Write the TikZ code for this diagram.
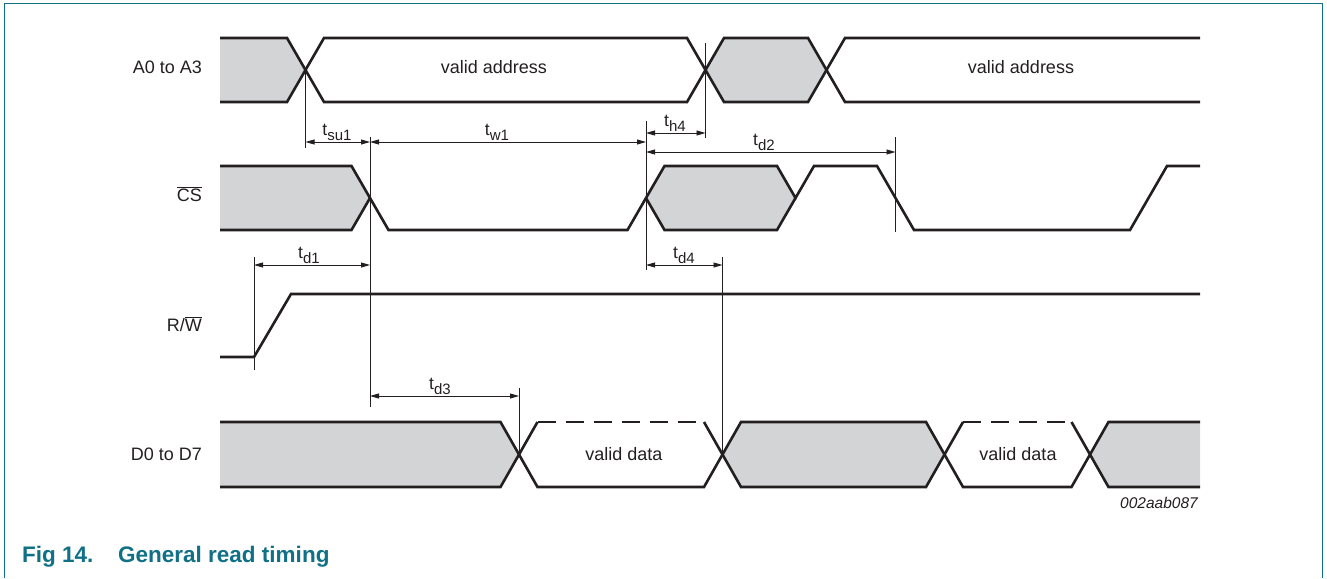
\documentclass[tikz,border=0pt]{standalone}
\usepackage{fontspec}
\setmainfont{Liberation Sans}
\usetikzlibrary{arrows.meta}
\definecolor{sigcol}{RGB}{35,31,32}
\definecolor{undefcol}{RGB}{211,212,214}
\definecolor{nxpteal}{RGB}{16,112,134}
\newcommand{\tlab}[1]{t\raisebox{-4.8pt}{\fontsize{15}{15}\selectfont #1}}
\tikzset{
  wave/.style={line width=2.6pt, draw=sigcol, line join=miter, line cap=butt},
  wavedash/.style={wave, dash pattern=on 18pt off 10pt},
  undef/.style={fill=undefcol, draw=none},
  guide/.style={line width=0.8pt, draw=sigcol},
  dim/.style={line width=0.8pt, draw=sigcol, {Triangle[length=9pt,width=5pt]}-{Triangle[length=9pt,width=5pt]}},
  siglbl/.style={font=\fontsize{18}{20}\selectfont, text=sigcol, inner sep=0pt, anchor=base east},
  txt/.style={font=\fontsize{18}{20}\selectfont, text=sigcol, inner sep=0pt, anchor=base},
  tl/.style={font=\fontsize{17.5}{20}\selectfont, text=sigcol, inner sep=0pt, anchor=base},
}
\begin{document}
\begin{tikzpicture}[x=1pt,y=-1pt]
\useasboundingbox (0,0) rectangle (1327,578);
% frame
\draw[nxpteal, line width=1.5pt] (4.5,578) -- (4.5,3.5) -- (1322.5,3.5) -- (1322.5,578);

% ---------- signal names ----------
\node[siglbl] (nA)  at (202,74)  {A0 to A3};
\node[siglbl] (nCS) at (202,201) {$\overline{\hbox{CS}}$};
\node[siglbl] (nRW) at (202,331) {R/$\overline{\hbox{W}}$};
\node[siglbl] (nD)  at (202,460) {D0 to D7};

% ---------- undefined (gray) regions ----------
\fill[undef] (220,38) -- (287,38) -- (305.5,70) -- (287,102) -- (220,102) -- cycle;
\fill[undef] (705.5,70) -- (724,38) -- (808,38) -- (826.5,70) -- (808,102) -- (724,102) -- cycle;
\fill[undef] (220,166) -- (351.5,166) -- (370,198) -- (351.5,230) -- (220,230) -- cycle;
\fill[undef] (646,198) -- (664.5,166) -- (777,166) -- (795.5,198) -- (777,230) -- (664.5,230) -- cycle;
\fill[undef] (220,422) -- (500.5,422) -- (519,454.5) -- (500.5,487) -- (220,487) -- cycle;
\fill[undef] (722.5,454.5) -- (741,422) -- (926,422) -- (944.5,454.5) -- (926,487) -- (741,487) -- cycle;
\fill[undef] (1090,454.5) -- (1108.5,422) -- (1200,422) -- (1200,487) -- (1108.5,487) -- cycle;

% ---------- A0 to A3 ----------
\draw[wave] (220,38) -- (287,38) -- (324,102) -- (687,102) -- (724,38) -- (808,38) -- (845,102) -- (1200,102);
\draw[wave] (220,102) -- (287,102) -- (324,38) -- (687,38) -- (724,102) -- (808,102) -- (845,38) -- (1200,38);
\node[txt] (va1) at (494,74) {valid address};
\node[txt] (va2) at (1021,74) {valid address};

% ---------- CS ----------
\draw[wave] (220,166) -- (351.5,166) -- (388.5,230) -- (627.5,230) -- (664.5,166) -- (777,166) -- (795.5,198) -- (814,166) -- (877,166) -- (914,230) -- (1130,230) -- (1167,166) -- (1200,166);
\draw[wave] (220,230) -- (351.5,230) -- (370,198);
\draw[wave] (646,198) -- (664.5,230) -- (777,230) -- (795.5,198);

% ---------- R/W ----------
\draw[wave] (220,357) -- (254,357) -- (291,294) -- (1200,294);

% ---------- D0 to D7 ----------
\draw[wave] (220,422) -- (500.5,422) -- (537.5,487) -- (704,487) -- (741,422) -- (926,422) -- (963,487) -- (1071.5,487) -- (1108.5,422) -- (1200,422);
\draw[wave] (220,487) -- (500.5,487) -- (537.5,422);
\draw[wavedash] (537.5,422) -- (704,422);
\draw[wave] (704,422) -- (741,487) -- (926,487) -- (963,422);
\draw[wavedash] (963,422) -- (1071.5,422);
\draw[wave] (1071.5,422) -- (1108.5,487) -- (1200,487);
\node[txt] (vd1) at (624,460) {valid data};
\node[txt] (vd2) at (1018,460) {valid data};

% ---------- timing guides ----------
\coordinate (g1a) at (305.5,70);  \coordinate (g1b) at (305.5,148);
\coordinate (g2a) at (370,137);   \coordinate (g2b) at (370,407);
\coordinate (g3a) at (646,121);   \coordinate (g3b) at (646,270);
\coordinate (g4a) at (705.5,43);  \coordinate (g4b) at (705.5,138);
\coordinate (g5a) at (895.5,137); \coordinate (g5b) at (895.5,232);
\coordinate (g6a) at (254,257);   \coordinate (g6b) at (254,370);
\coordinate (g7a) at (722.5,257); \coordinate (g7b) at (722.5,454.5);
\coordinate (g8a) at (519,388);   \coordinate (g8b) at (519,454.5);
\foreach \g in {g1,g2,g3,g4,g5,g6,g7,g8} \draw[guide] (\g a) -- (\g b);

% ---------- dimensions ----------
\coordinate (su1L) at (305.5,142); \coordinate (su1R) at (370,142);
\coordinate (w1L)  at (370,142);   \coordinate (w1R)  at (646,142);
\coordinate (h4L)  at (646,133);   \coordinate (h4R)  at (705.5,133);
\coordinate (d2L)  at (646,152);   \coordinate (d2R)  at (895.5,152);
\coordinate (d1L)  at (254,265);   \coordinate (d1R)  at (370,265);
\coordinate (d4L)  at (646,265);   \coordinate (d4R)  at (722.5,265);
\coordinate (d3L)  at (370,396);   \coordinate (d3R)  at (519,396);
\draw[dim] (su1L) -- (su1R);
\draw[dim] (w1L) -- (w1R);
\draw[dim] (h4L) -- (h4R);
\draw[dim] (d2L) -- (d2R);
\draw[dim] (d1L) -- (d1R);
\draw[dim] (d4L) -- (d4R);
\draw[dim] (d3L) -- (d3R);

\node[tl] (tsu1) at (337,135.5) {\tlab{su1}};
\node[tl] (tw1)  at (497,135.5) {\tlab{w1}};
\node[tl] (th4)  at (675,126.5) {\tlab{h4}};
\node[tl] (td2)  at (764,145.5) {\tlab{d2}};
\node[tl] (td1)  at (309,258.5) {\tlab{d1}};
\node[tl] (td4)  at (684,258.5) {\tlab{d4}};
\node[tl] (td3)  at (440,389.5) {\tlab{d3}};

% ---------- figure id and caption ----------
\node[font=\fontsize{15.5}{18}\selectfont\itshape, text=sigcol, inner sep=0pt, anchor=base east] (fid) at (1198,508) {002aab087};
\node[font=\fontsize{22.5}{26}\selectfont\bfseries, text=nxpteal, inner sep=0pt, anchor=base west] (cap1) at (22,562) {Fig 14.};
\node[font=\fontsize{22.5}{26}\selectfont\bfseries, text=nxpteal, inner sep=0pt, anchor=base west] (cap2) at (118,562) {General read timing};
\end{tikzpicture}
\end{document}
